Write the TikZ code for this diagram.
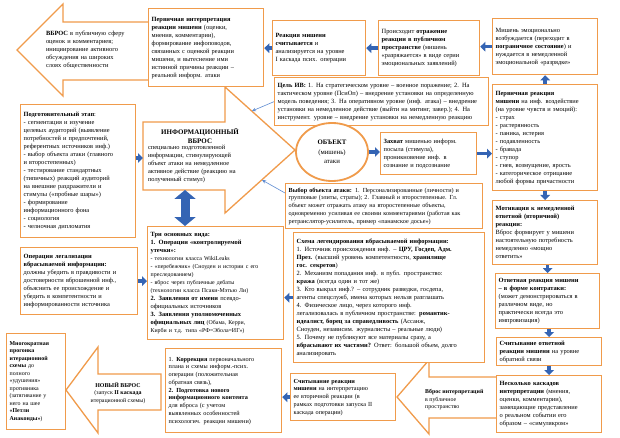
\documentclass[tikz,border=0pt]{standalone}
\usepackage{fontspec}
\setmainfont{Liberation Serif}
\usetikzlibrary{arrows.meta,shapes.geometric}
\definecolor{orB}{RGB}{240,155,75}
\definecolor{blA}{RGB}{52,100,180}
\definecolor{blT}{RGB}{95,140,210}
\newcommand\fs{\fontsize{6.4}{8}\selectfont}
\newcommand\fsq{\fontsize{6.2}{7.75}\selectfont}
\newcommand\fss{\fontsize{5.9}{7.5}\selectfont}
\tikzset{
  box/.style={draw=orB, line width=1.3pt, fill=white, anchor=north west,
    inner xsep=3pt, inner ysep=2pt, align=left, font=\fs},
  shp/.style={draw=orB, line width=1.3pt, line join=miter},
  blk/.style={draw=blA, line width=3.6pt, -{Triangle[width=9.5pt,length=5pt]}},
  dbl/.style={draw=blA, line width=9pt, {Triangle[width=21pt,length=9pt]}-{Triangle[width=21pt,length=9pt]}},
  thinb/.style={draw=blT, line width=0.6pt, -{Stealth[length=4pt,width=3.5pt]}},
  plain/.style={inner sep=0pt, align=left, font=\fs}
}
\begin{document}
\begin{tikzpicture}[x=1pt,y=-1pt]
\fill[white] (0,0) rectangle (620,438);
\useasboundingbox (0,0) rectangle (620,438);

% big left arrow (top)
\draw[shp] (148,22) -- (63,22) -- (63,4) -- (17,50) -- (63,96) -- (63,80) -- (148,80);
\node[plain, text width=84pt] (At) at (88,50) {\textbf{ВБРОС} в публичную сферу\\ оценок и комментариев;\\ инициирование активного\\ обсуждения на широких\\ слоях общественности};

% big right arrow (information dump)
\draw[shp, fill=white] (143,122) -- (225,122) -- (225,87) -- (295,150) -- (225,213) -- (225,190) -- (143,190) -- cycle;
\coordinate (mleft) at (143,158);
\coordinate (mb) at (185,190);
\coordinate (mu) at (252,111);
\coordinate (ml) at (262,180);
\node[plain, align=center, font=\fontsize{7}{8.5}\selectfont\bfseries] (Mt) at (200,136) {ИНФОРМАЦИОННЫЙ\\ВБРОС};
\node[plain, text width=104pt] (Mb) at (200,164) {специально подготовленной\\ информации, стимулирующей\\ объект атаки на немедленное\\ активное действие (реакцию на\\ полученный стимул)};

% new dump arrow (bottom left)
\draw[shp, fill=white] (161,374) -- (98,374) -- (98,347) -- (66,390) -- (98,433) -- (98,410) -- (161,410) -- cycle;
\node[plain, align=center, font=\fss] (Nt) at (118,393) {\textbf{НОВЫЙ ВБРОС}\\ (запуск \textbf{II каскада}\\ итерационной схемы)};

% interpretation dump arrow (bottom right)
\draw[shp, fill=white] (497,377) -- (429,377) -- (429,360) -- (397,397) -- (429,434) -- (429,418) -- (497,418);
\node[plain, anchor=west, font=\fss] (Wt) at (425,400) {\textbf{Вброс интерпретаций}\\ в публичное\\ пространство};

% boxes
\node[box, minimum width=115pt, minimum height=78pt, text width=109pt] (B) at (148,8) {\textbf{Первичная интерпретация}\\ \textbf{реакции мишени} (оценки,\\ мнения, комментарии),\\ формирование инфоповодов,\\ связанных с оценкой реакции\\ мишени, и вытеснение ими\\ истинной причины реакции –\\ реальной информ. атаки};
\node[box, minimum width=93pt, minimum height=55pt, text width=87pt] (C) at (272,20) {\textbf{Реакция мишени}\\ \textbf{считывается} и\\ анализируется на уровне\\ I каскада псих. операции};
\node[box, minimum width=101pt, minimum height=55pt, text width=95pt] (D) at (378,20) {Происходит \textbf{отражение}\\ \textbf{реакции в публичном}\\ \textbf{пространстве} (мишень\\ «разряжается» в виде серии\\ эмоциональных заявлений)};
\node[box, minimum width=105pt, minimum height=56pt, text width=99pt] (E) at (492,18) {Мишень эмоционально\\ возбуждается (переходит в\\ \textbf{пограничное состояние}) и\\ нуждается в немедленной\\ эмоциональной «разрядке»};
\node[box, minimum width=214pt, minimum height=48pt, text width=208pt] (F) at (274,77) {\textbf{Цель ИВ:} 1. На стратегическом уровне – военное поражение; 2. На\\ тактическом уровне (ПсиОп) – внедрение установки на определенную\\ модель поведения; 3. На оперативном уровне (инф. атака) – внедрение\\ установки на немедленное действие (выйти на митинг, завер.); 4. На\\ инструмент. уровне – внедрение установки на немедленную реакцию};
\node[box, minimum width=105pt, minimum height=106pt, text width=99pt] (G) at (492,84) {\textbf{Первичная реакция}\\ \textbf{мишени} на инф. воздействие\\ (на уровне чувств и эмоций):\\ - страх\\ - растерянность\\ - паника, истерия\\ - подавленность\\ - бравада\\ - ступор\\ - гнев, возмущение, ярость\\ - категорическое отрицание\\ любой формы причастности};
\node[box, minimum width=105pt, minimum height=64pt, text width=99pt] (H) at (492,200) {\textbf{Мотивация к немедленной}\\ \textbf{ответной (вторичной)}\\ \textbf{реакции:}\\ Вброс формирует у мишени\\ настоятельную потребность\\ немедленно «мощно\\ ответить»};
\node[box, minimum width=104pt, minimum height=55pt, text width=98pt] (I) at (495,273) {\textbf{Ответная реакция мишени}\\ \textbf{– в форме контратаки:}\\ (может демонстрироваться в\\ различном виде, но\\ практически всегда это\\ импровизация)};
\node[box, minimum width=105pt, minimum height=28pt, text width=99pt] (J) at (496,337) {\textbf{Считывание ответной}\\ \textbf{реакции мишени} на уровне\\ обратной связи};
\node[box, minimum width=105pt, minimum height=57pt, text width=99pt] (K) at (496,375) {\textbf{Несколько каскадов}\\ \textbf{интерпретации} (мнения,\\ оценки, комментарии),\\ замещающие представление\\ о реальном событии его\\ образом – «симулякром»};
\node[box, minimum width=115pt, minimum height=133pt, text width=109pt] (L) at (20,104) {\textbf{Подготовительный этап}:\\ - сегментация и изучение\\ целевых аудиторий (выявление\\ потребностей и предпочтений,\\ референтных источников инф.)\\ - выбор объекта атаки (главного\\ и второстепенных)\\ - тестирование стандартных\\ (типичных) реакций аудиторий\\ на внешние раздражители и\\ стимулы («пробные шары»)\\ - формирование\\ информационного фона\\ - социология\\ - челночная дипломатия};
\node[ellipse, draw=orB, line width=1.8pt, fill=white, minimum width=72pt, minimum height=58pt, inner sep=0pt, align=center, font=\fontsize{6.8}{9.5}\selectfont] (N) at (332,152) {\textbf{ОБЪЕКТ}\\ (мишень)\\ атаки};
\node[box, minimum width=96pt, minimum height=42pt, text width=90pt] (O) at (380,132) {\textbf{Захват} мишенью информ.\\ посыла (стимула),\\ проникновение инф. в\\ сознание и подсознание};
\node[box, minimum width=197pt, minimum height=45pt, text width=191pt, font=\fsq] (P) at (285,183) {\textbf{Выбор объекта атаки:} 1. Персонализированные (личности) и\\ групповые (элиты, страты); 2. Главный и второстепенные. Гл.\\ объект может отражать атаку на второстепенные объекты,\\ одновременно усиливая ее своими комментариями (работая как\\ ретранслятор-усилитель, пример «панамское досье»)};
\node[box, minimum width=191pt, minimum height=130pt, text width=185pt] (Q) at (293,232) {\textbf{Схема легендирования вбрасываемой информации:}\\ 1. Источник происхождения инф. – \textbf{ЦРУ, Госдеп, Адм.}\\ \textbf{През.} (высший уровень компетентности, \textbf{хранилище}\\ \textbf{гос. секретов})\\ 2. Механизм попадания инф. в публ. пространство:\\ \textbf{кража} (всегда один и тот же)\\ 3. Кто выкрал инф.? – сотрудник разведки, госдепа,\\ агенты спецслужб, имена которых нельзя разглашать\\ 4. Физическое лицо, через которого инф.\\ легализовалась в публичном пространстве: \textbf{романтик-}\\ \textbf{идеалист, борец за справедливость} (Ассанж,\\ Сноуден, независим. журналисты – реальные люди)\\ 5. Почему не публикуют все материалы сразу, а\\ \textbf{вбрасывают их частями?} Ответ: большой объем, долго\\ анализировать};
\node[box, minimum width=136pt, minimum height=113pt, text width=130pt] (T) at (147,226) {\textbf{Три основных вида:}\\ \textbf{1. Операции «контролируемой}\\ \textbf{утечки»:}\\ {\fss - технологии класса WikiLeaks}\\ {\fss - «перебежчик» (Сноуден и истории с его}\\ {\fss преследованием)}\\ {\fss - вброс через публичные дебаты}\\ {\fss (технологии класса Псаки-Мэтью Ли)}\\ \textbf{2. Заявления от имени} псевдо-\\ официальных источников\\ \textbf{3. Заявления уполномоченных}\\ \textbf{официальных лиц} {\fss (Обама, Керри,}\\ {\fss Кирби и т.д. типа «РФ=Эбола=ИГ»)}};
\node[box, minimum width=117pt, minimum height=67pt, text width=111pt] (Leg) at (20,247) {\textbf{Операции легализации}\\ \textbf{вбрасываемой информации:}\\ должны убедить в правдивости и\\ достоверности вброшенной инф.,\\ объяснить ее происхождение и\\ убедить в компетентности и\\ информированности источника};
\node[box, minimum width=116pt, minimum height=84pt, text width=110pt, font=\fsq] (Kor) at (165,348) {1. \textbf{Коррекция} первоначального\\ плана и схемы информ.-псих.\\ операции (положительная\\ обратная связь),\\ \textbf{2. Подготовка нового}\\ \textbf{информационного контента}\\ для вброса (с учетом\\ выявленных особенностей\\ психологич. реакции мишени)};
\node[box, minimum width=105pt, minimum height=47pt, text width=99pt, font=\fsq] (S) at (290,373) {\textbf{Считывание реакции}\\ \textbf{мишени} на интерпретацию\\ ее вторичной реакции (в\\ рамках подготовки запуска II\\ каскада операции)};
\node[box, minimum width=59pt, minimum height=96pt, text width=53pt, font=\fss] (Mn) at (6,333) {\textbf{Многократная}\\ \textbf{прогонка}\\ \textbf{итерационной}\\ \textbf{схемы} до\\ полного\\ «удушения»\\ противника\\ (затягивание у\\ него на шее\\ \textbf{«Петли}\\ \textbf{Анаконды»})};

% block arrows
\draw[blk] (C.west) -- (C.west -| B.east);
\draw[blk] (D.west) -- (D.west -| C.east);
\draw[blk] (E.west) -- (E.west -| D.east);
\draw[blk] (G.north) -- (E.south);
\draw[blk] (N.east) -- (N.east -| O.west);
\draw[blk] (O.east) -- (O.east -| G.west);
\draw[blk] (G.south) -- (H.north);
\draw[blk] (I.north |- H.south) -- (I.north);
\draw[blk] (I.south -| J.north) -- (J.north);
\draw[blk] (J.south) -- (K.north);
\draw[blk] (S.west) -- (S.west -| Kor.east);
\draw[blk] (mleft -| L.east) -- (mleft);
\draw[blk] (Leg.east) -- (Leg.east -| T.west);
\draw[blk] (Q.west) -- (Q.west -| T.east);
\draw[dbl] (mb) -- (mb |- T.north);

% thin arrows
\draw[thinb] (F.west) -- (mu);
\draw[thinb] ([yshift=-10pt]P.north west) -- (ml);
\end{tikzpicture}
\end{document}
